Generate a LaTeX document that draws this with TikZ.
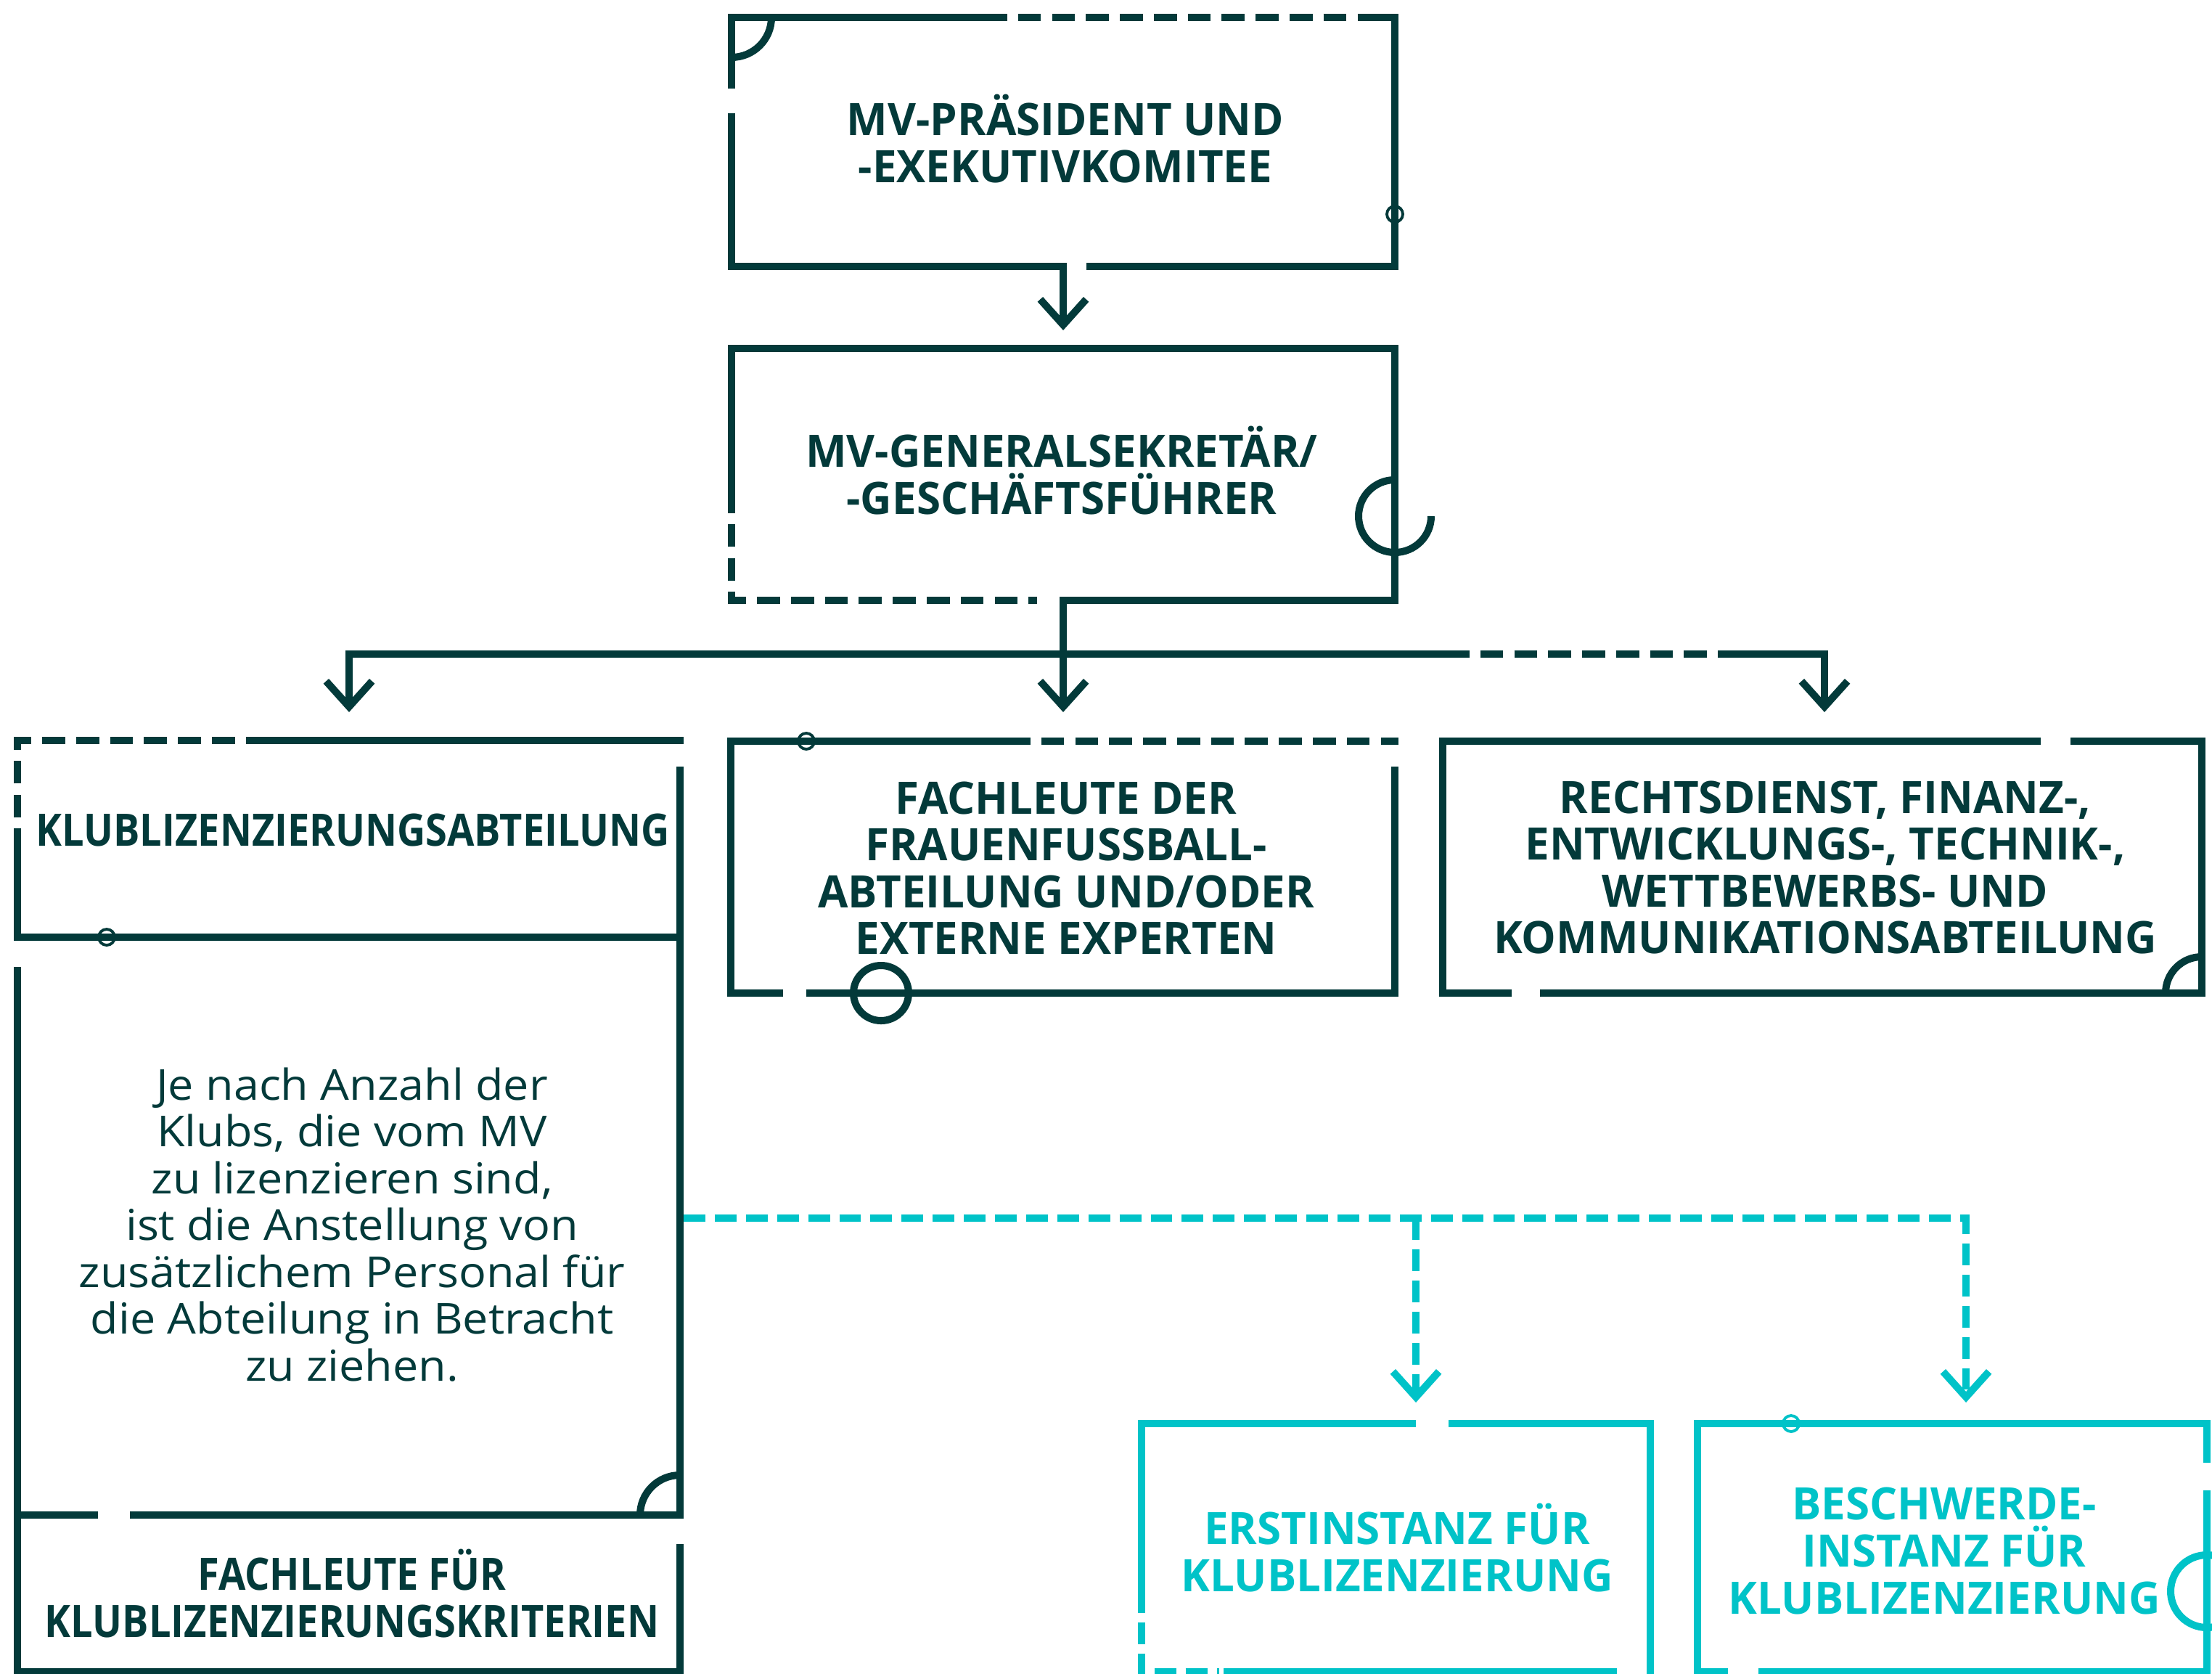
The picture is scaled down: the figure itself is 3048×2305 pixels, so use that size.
\documentclass[tikz,border=0pt]{standalone}
\usepackage{fontspec}
\setmainfont{Open Sans}
\newfontfamily\headfont{Open Sans}[FakeStretch=0.975]
\newfontfamily\headnarrow{Open Sans}[FakeStretch=0.88]
\newfontfamily\bodyfont{Open Sans}[FakeStretch=1.07]
\usetikzlibrary{arrows.meta}
\definecolor{dk}{HTML}{033A3A}
\definecolor{cy}{HTML}{00C3C8}
\begin{document}
\begin{tikzpicture}[x=0.01cm,y=-0.01cm,
  ln/.style={line width=2.85pt, draw=dk},
  dsh/.style={ln, dash pattern=on 9pt off 4.3pt},
  cln/.style={line width=2.85pt, draw=cy},
  cdsh/.style={cln, dash pattern=on 8.5pt off 3.7pt},
  tip/.style={-{Straight Barb[length=10pt,width=18pt,line cap=butt,line join=miter]}},
  ring/.style={draw=dk, line width=1.1pt},
  cring/.style={draw=cy, line width=1.1pt},
  head/.style={font=\headfont\bfseries\fontsize{17.5pt}{18.35pt}\selectfont, align=center, text=dk, inner sep=0pt},
  headn/.style={head, font=\headnarrow\bfseries\fontsize{17.5pt}{18.35pt}\selectfont},
  body/.style={font=\bodyfont\fontsize{16.7pt}{18.35pt}\selectfont, align=center, text=dk, inner sep=0pt}]
\useasboundingbox (0,0) rectangle (3048,2305);
\clip (0,0) rectangle (3048,2305);
\fill[white] (0,0) rectangle (3048,2305);

% ---------- Box 1 ----------
\draw[ln] (1008,122) -- (1008,24) -- (1356,24);
\draw[dsh] (1356,24) -- (1872,24);
\draw[ln] (1872,24) -- (1922,24) -- (1922,367) -- (1497,367);
\draw[ln] (1008,156) -- (1008,367) -- (1470,367);
\draw[ln] (1008,79) arc[start angle=90,end angle=0,radius=55];
\draw[ring] (1922,295) circle[radius=11];
\node[head] (t1) at (1468,191) {MV-PRÄSIDENT UND\\-EXEKUTIVKOMITEE};

% ---------- Box 2 ----------
\draw[ln] (1008,675) -- (1008,480) -- (1922,480) -- (1922,827) -- (1460,827);
\draw[dsh] (1008,675) -- (1008,827) -- (1429,827);
\draw[ln] (1922,661) arc[start angle=270,end angle=0,radius=50];
\node[head] (t2) at (1463,648) {MV-GENERALSEKRETÄR/\\-GESCHÄFTSFÜHRER};

% ---------- connectors (dark) ----------
\coordinate (b1s) at (1465,367);
\coordinate (b2n) at (1465,455);
\coordinate (b2s) at (1465,827);
\coordinate (b3n) at (481,981);
\coordinate (b4n) at (1465,981);
\coordinate (b5n) at (2514,981);
\coordinate (bus1) at (1993,901);
\coordinate (bus2) at (2372,901);
\draw[ln,tip] (b1s) -- (b2n);
\draw[ln,tip] (b2s) -- (b4n);
\draw[ln,tip] (bus1) -- (b3n |- bus1) -- (b3n);
\draw[dsh] (bus1) -- (bus2);
\draw[ln,tip] (bus2) -- (b5n |- bus2) -- (b5n);

% ---------- Box 3 (Klublizenzierungsabteilung) ----------
\draw[dsh] (24,1173) -- (24,1020) -- (357,1020);
\draw[ln] (357,1020) -- (942,1020);
\draw[ln] (24,1173) -- (24,1291) -- (937,1291);
\draw[ln] (179,2087) -- (937,2087) -- (937,1056);
\draw[ln] (24,2087) -- (135,2087);
\draw[ln] (24,1332) -- (24,2303) -- (937,2303) -- (937,2127);
\draw[ring] (147,1291) circle[radius=11];
\draw[ln] (937,2032) arc[start angle=270,end angle=180,radius=55];
\node[headn] (t3) at (486,1143) {KLUBLIZENZIERUNGSABTEILUNG};
\node[body] (t3b) at (485,1687) {Je nach Anzahl der\\Klubs, die vom MV\\zu lizenzieren sind,\\ist die Anstellung von\\zusätzlichem Personal für\\die Abteilung in Betracht\\zu ziehen.};
\node[headn] (t3c) at (485,2195) {FACHLEUTE FÜR\\KLUBLIZENZIERUNGSKRITERIEN};

% ---------- Box 4 ----------
\draw[ln] (1388,1021) -- (1007,1021) -- (1007,1368) -- (1079,1368);
\draw[dsh] (1388,1021) -- (1927,1021);
\draw[ln] (1922,1056) -- (1922,1368) -- (1111,1368);
\draw[ring] (1111,1021) circle[radius=11];
\draw[ln] (1214,1368) circle[radius=38];
\node[head] (t4) at (1469,1195.5) {FACHLEUTE DER\\FRAUENFUSSBALL-\\ABTEILUNG UND/ODER\\EXTERNE EXPERTEN};

% ---------- Box 5 ----------
\draw[ln] (2812,1021) -- (1988,1021) -- (1988,1368) -- (2083,1368);
\draw[ln] (2853,1021) -- (3034,1021) -- (3034,1368) -- (2122,1368);
\draw[ln] (3034,1318) arc[start angle=270,end angle=180,radius=50];
\node[head] (t5) at (2515,1195) {RECHTSDIENST, FINANZ-,\\ENTWICKLUNGS-, TECHNIK-,\\WETTBEWERBS- UND\\KOMMUNIKATIONSABTEILUNG};

% ---------- Box 6 (cyan) ----------
\draw[cln] (1573,2222) -- (1573,1961) -- (1951,1961);
\draw[cln] (1996,1961) -- (2274,1961) -- (2274,2310);
\draw[cdsh,dash phase=8.5pt] (1573,2222) -- (1573,2303) -- (1680,2303);
\draw[cln] (1686,2303) -- (2228,2303);
\node[head,text=cy] (t6) at (1925,2132) {ERSTINSTANZ FÜR\\KLUBLIZENZIERUNG};

% ---------- Box 7 (cyan) ----------
\draw[cln] (2381,2303) -- (2339,2303) -- (2339,1961) -- (3041,1961) -- (3041,2015);
\draw[cln] (3041,2053) -- (3041,2303) -- (2423,2303);
\draw[cring] (2468,1961) circle[radius=11];
\draw[cln] (3041,2192) circle[radius=50];
\node[head,text=cy] (t7) at (2679,2136.5) {BESCHWERDE-\\INSTANZ FÜR\\KLUBLIZENZIERUNG};

% ---------- cyan connector ----------
\coordinate (c0) at (942,1678);
\coordinate (c1) at (1951,1678);
\coordinate (c2) at (2709,1678);
\coordinate (b6n) at (1951,1932);
\coordinate (b7n) at (2709,1932);
\draw[cdsh,tip] (c0) -- (c2) -- (b7n);
\draw[cdsh,tip] (c1) -- (b6n);
\end{tikzpicture}
\end{document}
